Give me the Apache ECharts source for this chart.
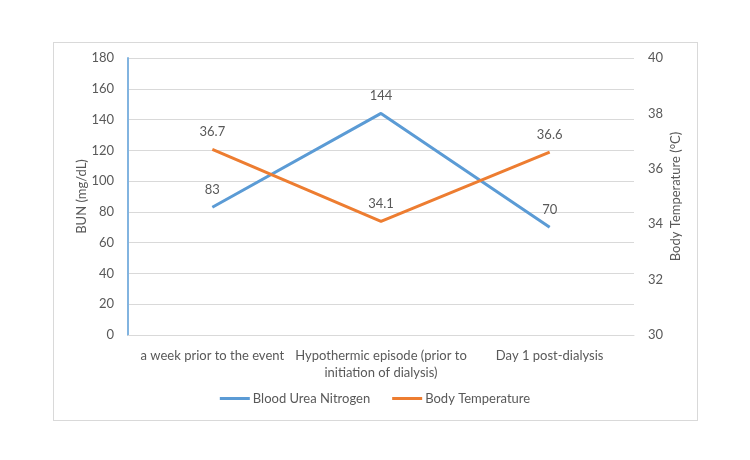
<!DOCTYPE html>
<html>
<head>
<meta charset="utf-8">
<script src="https://cdn.jsdelivr.net/npm/echarts@6/dist/echarts.min.js"></script>
<style>
  html, body { margin: 0; padding: 0; background: #fff; }
  #wrap { position: absolute; left: 53px; top: 42px; width: 643px; height: 377px; border: 1px solid #d9d9d9; }
  #chart { position: absolute; left: 0; top: 0; width: 750px; height: 460px; }
</style>
</head>
<body>
<div id="wrap"></div>
<div id="chart"></div>
<script>
// categories and values
var stages = ['a week prior to the event', 'Hypothermic episode (prior to\ninitiation of dialysis)', 'Day 1 post-dialysis'];
var bunValues = [83, 144, 70];
var tempValues = [36.7, 34.1, 36.6];

var chartDom = document.getElementById('chart');
var chart = echarts.init(chartDom);
var txt = '#595959';
var fontFam = 'Lato, "Open Sans", sans-serif';

var option = {
  textStyle: { fontFamily: fontFam, color: txt },
  grid: { left: 128, right: 116, top: 58, bottom: 125 },
  legend: {
    bottom: 50,
    left: 'center',
    itemWidth: 30,
    itemHeight: 3,
    itemGap: 22,
    icon: 'rect',
    textStyle: { color: txt, fontSize: 13, fontFamily: fontFam, padding: [0, 0, 0, -2] },
    data: ['Blood Urea Nitrogen', 'Body Temperature']
  },
  xAxis: {
    type: 'category',
    data: stages,
    axisLine: { lineStyle: { color: '#d9d9d9' } },
    axisTick: { show: false },
    axisLabel: { color: txt, fontSize: 13, margin: 12, lineHeight: 17, interval: 0 }
  },
  yAxis: [
    {
      type: 'value',
      min: 0, max: 180, interval: 20,
      name: 'BUN (mg/dL)',
      nameLocation: 'middle',
      nameGap: 40,
      nameMoveOverlap: false,
      nameTextStyle: { color: txt, fontSize: 13 },
      axisLine: { show: true, lineStyle: { color: '#82b4e0', width: 2 } },
      axisTick: { show: false },
      axisLabel: { color: txt, fontSize: 13, margin: 14 },
      splitLine: { lineStyle: { color: '#d9d9d9' } }
    },
    {
      type: 'value',
      min: 30, max: 40, interval: 2,
      name: 'Body Temperature (°C)',
      nameLocation: 'middle',
      nameGap: 35,
      nameMoveOverlap: false,
      nameRotate: 90,
      nameTextStyle: { color: txt, fontSize: 13 },
      axisLine: { show: false },
      axisTick: { show: false },
      axisLabel: { color: txt, fontSize: 13, margin: 14 },
      splitLine: { show: false }
    }
  ],
  series: [
    {
      name: 'Blood Urea Nitrogen',
      type: 'line',
      yAxisIndex: 0,
      data: bunValues,
      symbol: 'circle',
      symbolSize: 0,
      lineStyle: { color: '#5b9bd5', width: 3 },
      itemStyle: { color: '#5b9bd5' },
      label: { show: true, position: 'top', distance: 11, color: txt, fontSize: 13 }
    },
    {
      name: 'Body Temperature',
      type: 'line',
      yAxisIndex: 1,
      data: tempValues,
      symbol: 'circle',
      symbolSize: 0,
      lineStyle: { color: '#ed7d31', width: 3 },
      itemStyle: { color: '#ed7d31' },
      label: { show: true, position: 'top', distance: 11, color: txt, fontSize: 13 }
    }
  ]
};

chart.setOption(option);
</script>
</body>
</html>
